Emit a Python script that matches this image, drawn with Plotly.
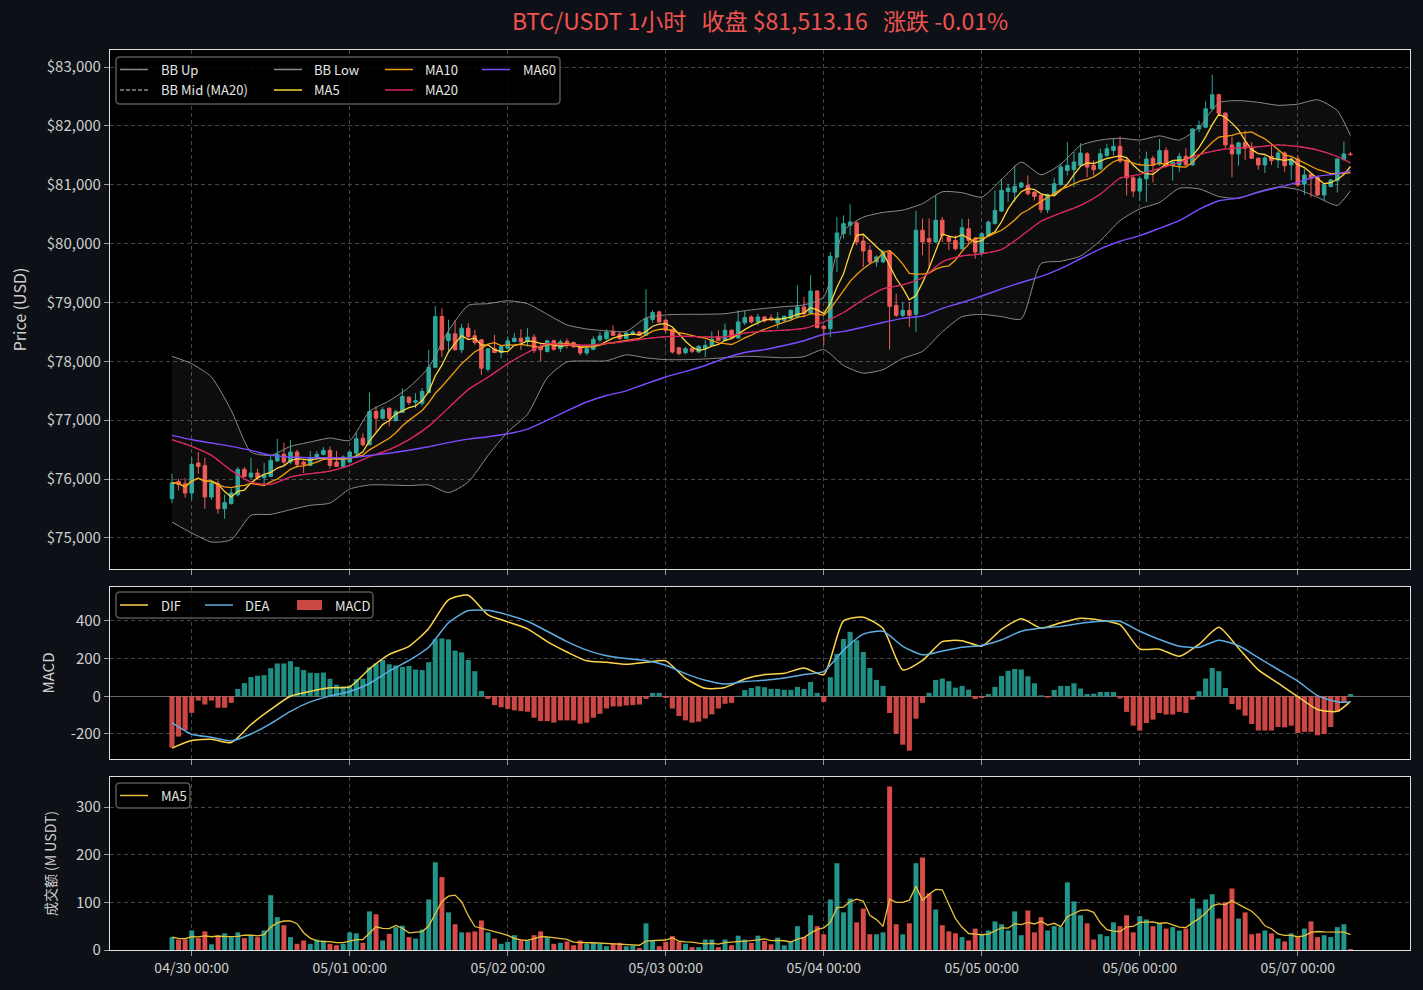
import plotly.graph_objects as go
from plotly.subplots import make_subplots
import pandas as pd

# hourly candles, first one is 04/29 21:00
first_candle = "2025-04-29 21:00"
day0 = pd.Timestamp("2025-04-30 00:00")

opens = [
    75667, 75960, 75922, 75763, 76273, 76227, 75695, 75922, 75497, 75582,
    75735, 76165, 76035, 76103, 76024, 76046, 76307, 76420, 76290, 76460,
    76290, 76233, 76363, 76420, 76488, 76290, 76216, 76290, 76440, 76695,
    76582, 77148, 77035, 77205, 76995, 77131, 77392, 77307, 77290, 77471,
    77901, 78762, 78354, 78468, 78196, 78564, 78434, 78366, 77867, 78213,
    78150, 78224, 78337, 78394, 78337, 78411, 78250, 78167, 78349, 78216,
    78341, 78318, 78256, 78142, 78205, 78364, 78386, 78511, 78460, 78387,
    78460, 78500, 78443, 78710, 78841, 78699, 78540, 78233, 78148, 78216,
    78159, 78216, 78273, 78415, 78358, 78529, 78398, 78654, 78754, 78669,
    78754, 78740, 78652, 78698, 78726, 78754, 78924, 78822, 79196, 78596,
    78556, 79773, 80170, 80311, 80351, 80045, 79887, 79689, 79689, 79858,
    78952, 78782, 78867, 78799, 80227, 80085, 80028, 80396, 80111, 80055,
    79913, 80253, 80083, 79840, 80140, 80338, 80553, 80887, 80875, 80960,
    80989, 80875, 80819, 80575, 80819, 81006, 81243, 81260, 81328, 81526,
    81328, 81270, 81498, 81583, 81651, 81413, 81119, 80892, 81100, 81449,
    81353, 81580, 81324, 81336, 81483, 81336, 81949, 81978, 82290, 82529,
    82216, 81677, 81523, 81722, 81637, 81449, 81336, 81483, 81421, 81540,
    81336, 81438, 81012, 81177, 81126, 80825, 80972, 81069, 81427, 81522,
]
highs = [
    76092, 76007, 76018, 76363, 76460, 76363, 75978, 75978, 75735, 75837,
    76205, 76205, 76363, 76177, 76273, 76431, 76686, 76618, 76669, 76499,
    76318, 76477, 76477, 76545, 76556, 76477, 76403, 76470, 76788, 76780,
    77471, 77233, 77222, 77215, 77177, 77545, 77403, 77460, 77545, 78196,
    78943, 78904, 78706, 78694, 78638, 78649, 78536, 78377, 78224, 78451,
    78262, 78422, 78479, 78547, 78564, 78462, 78290, 78366, 78370, 78370,
    78386, 78340, 78273, 78245, 78426, 78500, 78540, 78614, 78500, 78500,
    78528, 78515, 79227, 78869, 78858, 78710, 78557, 78245, 78250, 78240,
    78273, 78358, 78511, 78529, 78642, 78540, 78869, 78869, 78782, 78811,
    78770, 78800, 78839, 78780, 78880, 79292, 79094, 79462, 79207, 78613,
    79858, 80453, 80481, 80668, 80380, 80170, 79972, 79800, 79898, 79887,
    79151, 79009, 79009, 80555, 80425, 80425, 80821, 80451, 80140, 80140,
    80423, 80423, 80111, 80196, 80394, 80904, 81102, 81017, 81328, 81050,
    81158, 80890, 80836, 80847, 81119, 81357, 81724, 81555, 81708, 81555,
    81413, 81611, 81696, 81781, 81821, 81470, 81158, 81130, 81563, 81495,
    81779, 81637, 81400, 81540, 81620, 81960, 82091, 82415, 82869, 82546,
    82233, 81818, 81733, 81921, 81722, 81470, 81495, 81677, 81580, 81563,
    81466, 81506, 81268, 81190, 81140, 81012, 81097, 81449, 81733, 81560,
]
lows = [
    75593, 75808, 75684, 75650, 76092, 75497, 75650, 75412, 75327, 75571,
    75707, 76035, 76007, 75990, 75922, 76035, 76307, 76227, 76250, 76188,
    76103, 76216, 76318, 76403, 76177, 76205, 76205, 76280, 76403, 76554,
    76570, 76808, 77007, 76893, 76973, 77120, 77262, 77205, 77245, 77460,
    77890, 78071, 78139, 78185, 78139, 78366, 78281, 77771, 77828, 78139,
    78054, 78196, 78320, 78196, 78252, 78139, 78000, 78150, 78180, 78160,
    78216, 78230, 78103, 78103, 78188, 78330, 78358, 78432, 78358, 78375,
    78443, 78430, 78432, 78654, 78654, 78483, 78131, 78103, 78120, 78140,
    78142, 78074, 78245, 78341, 78330, 78386, 78386, 78614, 78641, 78613,
    78660, 78680, 78556, 78670, 78700, 78726, 78743, 78800, 78560, 78273,
    78414, 79519, 80085, 80142, 79972, 79604, 79660, 79604, 79672, 78199,
    78754, 78754, 78584, 78499, 79802, 79575, 80011, 80026, 79890, 79885,
    79885, 79998, 79744, 79800, 80111, 80327, 80536, 80706, 80706, 80940,
    80819, 80734, 80519, 80519, 80802, 80972, 81158, 80960, 81300, 81130,
    81158, 81243, 81470, 81498, 81368, 80819, 80791, 80730, 80711, 81040,
    81324, 81296, 81069, 81222, 81324, 81324, 81892, 81960, 82262, 82176,
    81620, 81126, 81324, 81421, 81438, 81256, 81199, 81336, 81279, 81222,
    81080, 80972, 80825, 80785, 80813, 80728, 80955, 80870, 81410, 81490,
]
closes = [
    75939, 75910, 75763, 76250, 76216, 75695, 75933, 75497, 75599, 75763,
    76165, 76046, 76103, 76024, 76075, 76318, 76420, 76290, 76460, 76250,
    76250, 76363, 76420, 76488, 76233, 76216, 76375, 76460, 76686, 76582,
    77148, 77035, 77177, 77035, 77148, 77403, 77301, 77330, 77488, 77901,
    78762, 78196, 78468, 78196, 78564, 78422, 78320, 77884, 78213, 78150,
    78252, 78349, 78394, 78337, 78411, 78185, 78196, 78349, 78207, 78330,
    78273, 78245, 78142, 78216, 78375, 78432, 78500, 78443, 78387, 78483,
    78500, 78443, 78727, 78830, 78670, 78529, 78159, 78131, 78216, 78171,
    78256, 78273, 78375, 78358, 78529, 78398, 78670, 78744, 78669, 78754,
    78686, 78709, 78737, 78765, 78867, 78924, 78811, 79196, 78573, 78556,
    79785, 80181, 80340, 80368, 80028, 79875, 79689, 79773, 79858, 78935,
    78782, 78867, 78782, 80227, 80028, 80028, 80396, 80140, 80040, 79913,
    80270, 80055, 79857, 80168, 80366, 80564, 80904, 80943, 80972, 81028,
    80847, 80802, 80575, 80836, 81017, 81300, 81328, 81385, 81538, 81300,
    81255, 81526, 81611, 81651, 81402, 81119, 80892, 81100, 81438, 81336,
    81580, 81324, 81381, 81483, 81336, 81949, 82006, 82290, 82529, 82216,
    81677, 81523, 81711, 81620, 81449, 81336, 81455, 81410, 81540, 81324,
    81438, 80995, 81165, 81109, 80825, 80995, 81080, 81438, 81523, 81513.16,
]
# turnover, million USDT
volumes = [
    27, 22, 22, 41, 25, 39, 12, 30, 35, 28,
    37, 25, 32, 27, 41, 115, 69, 52, 27, 13,
    20, 13, 22, 20, 13, 10, 13, 37, 35, 15,
    81, 75, 20, 34, 48, 51, 27, 24, 43, 106,
    184, 153, 79, 54, 37, 37, 39, 62, 37, 24,
    13, 17, 31, 20, 20, 31, 39, 27, 13, 15,
    18, 10, 20, 13, 15, 13, 8, 13, 15, 8,
    10, 4, 56, 20, 8, 17, 29, 18, 13, 6,
    6, 22, 22, 6, 22, 10, 30, 22, 15, 30,
    19, 12, 26, 10, 17, 50, 27, 73, 50, 33,
    106, 182, 79, 108, 58, 87, 33, 33, 37, 343,
    54, 33, 56, 182, 194, 119, 85, 52, 39, 35,
    27, 20, 45, 33, 41, 60, 54, 41, 81, 31,
    83, 37, 69, 41, 50, 48, 142, 102, 73, 56,
    22, 33, 29, 58, 50, 73, 37, 71, 64, 50,
    56, 45, 48, 41, 45, 108, 87, 106, 117, 66,
    100, 129, 66, 79, 33, 35, 41, 35, 24, 18,
    35, 27, 45, 60, 27, 31, 27, 48, 54, 2,
]
macd_hist = [
    -272, -214, -180, -88, -23, -44, -23, -61, -61, -35,
    39, 70, 102, 109, 112, 149, 174, 174, 186, 156,
    139, 125, 123, 126, 93, 61, 53, 56, 91, 93,
    153, 174, 193, 170, 163, 156, 161, 142, 139, 181,
    303, 307, 302, 242, 233, 193, 133, 28, -14, -47,
    -58, -67, -75, -79, -82, -114, -132, -132, -140, -128,
    -128, -128, -146, -140, -114, -93, -65, -54, -54, -49,
    -47, -44, -14, 18, 18, -9, -65, -105, -128, -140,
    -135, -118, -96, -65, -40, -35, 2, 33, 44, 53,
    48, 39, 39, 34, 34, 50, 39, 76, 18, -30,
    101, 225, 304, 342, 297, 235, 150, 87, 55, -89,
    -200, -257, -289, -119, -35, 18, 87, 94, 80, 46,
    55, 35, -14, -9, 12, 50, 108, 135, 145, 142,
    106, 69, 5, -7, 34, 55, 55, 69, 41, 12,
    14, 23, 23, 23, -12, -83, -156, -182, -142, -124,
    -89, -97, -97, -83, -89, -18, 27, 94, 150, 133,
    44, -41, -71, -103, -147, -182, -182, -182, -163, -165,
    -156, -195, -189, -189, -207, -200, -163, -83, -35, 12,
]

# slow indicators every 3 hours (hours from 04/30 00:00)
ind_hours = list(range(-3, 175, 3)) + [176]
bb_up = [
    78085, 77960, 77734, 77168, 76460, 76403, 76556, 76630, 76698, 76658,
    77150, 77330, 77560, 77900, 78520, 78950, 78980, 79030, 78980, 78800,
    78620, 78550, 78520, 78510, 78740, 78790, 78800, 78800, 78810, 78860,
    78900, 78930, 78960, 79094, 80220, 80450, 80530, 80570, 80680, 80880,
    80865, 80791, 81090, 81385, 81170, 81350, 81668, 81760, 81790, 81760,
    81830, 81760, 81978, 82392, 82430, 82400, 82350, 82370, 82443, 82260,
    81836,
]
bb_low = [
    75270, 75084, 74931, 74970, 75384, 75401, 75480, 75554, 75593, 75830,
    75900, 75900, 75890, 75900, 75770, 75950, 76400, 76800, 77100, 77720,
    77990, 78006, 78010, 78110, 78060, 78029, 78029, 78040, 78063, 78086,
    78075, 78060, 78080, 78199, 77930, 77800, 77860, 78050, 78170, 78500,
    78760, 78798, 78760, 78720, 79660, 79700, 79790, 80050, 80390, 80590,
    80700, 80940, 80930, 80800, 80770, 80880, 80960, 80920, 80785, 80650,
    80898,
]
ma20 = [
    76669, 76556, 76403, 76148, 75950, 75910, 76035, 76092, 76137, 76233,
    76380, 76500, 76670, 76900, 77210, 77520, 77730, 77960, 78150, 78300,
    78280, 78275, 78300, 78340, 78385, 78420, 78426, 78415, 78415, 78480,
    78515, 78530, 78560, 78669, 78830, 79050, 79230, 79300, 79420, 79690,
    79790, 79828, 79900, 80130, 80380, 80520, 80650, 80840, 81110, 81175,
    81280, 81380, 81510, 81590, 81625, 81645, 81677, 81650, 81590, 81480,
    81370,
]
ma60 = [
    76743, 76669, 76613, 76556, 76488, 76403, 76375, 76363, 76363, 76363,
    76400, 76440, 76490, 76550, 76620, 76680, 76720, 76770, 76850, 77000,
    77160, 77310, 77420, 77500, 77620, 77735, 77830, 77930, 78055, 78150,
    78200, 78270, 78350, 78460, 78510, 78580, 78660, 78730, 78770, 78900,
    79000, 79110, 79230, 79340, 79445, 79575, 79743, 79910, 80040, 80135,
    80260, 80390, 80580, 80728, 80775, 80870, 80955, 81040, 81145, 81185,
    81239,
]
dif = [
    -275, -235, -228, -246, -150, -70, 0, 26, 45, 50,
    145, 222, 265, 360, 512, 536, 432, 395, 358, 290,
    235, 188, 180, 170, 180, 188, 95, 42, 47, 92,
    115, 122, 150, 115, 400, 420, 360, 140, 190, 290,
    295, 266, 355, 411, 362, 390, 414, 404, 380, 251,
    250, 212, 276, 366, 255, 140, 70, -2, -70, -80,
    -27,
]
dea = [
    -140, -202, -218, -237, -200, -145, -80, -30, 2, 25,
    68, 133, 190, 260, 390, 455, 456, 432, 398, 345,
    290, 245, 215, 200, 190, 165, 120, 85, 65, 78,
    85, 97, 115, 132, 245, 330, 345, 265, 220, 240,
    260, 270, 300, 345, 362, 371, 388, 398, 398, 345,
    301, 265, 260, 298, 268, 205, 142, 80, 3, -30,
    -30,
]

price_ticks = list(range(75000, 83001, 1000))
macd_ticks = [-200, 0, 200, 400]
vol_ticks = [0, 100, 200, 300]

GREEN = "#26a69a"
RED = "#ef5350"
BB_COL = "#8c8c8c"
MA5_COL = "#ffd43b"
MA10_COL = "#f39c12"
MA20_COL = "#e0245e"
MA60_COL = "#7c4dff"
DIF_COL = "#fdd54a"
DEA_COL = "#5dade2"
VMA_COL = "#e8c13a"
TXT = "#cfcfcf"
FONT = "Noto Sans CJK SC"

times = pd.date_range(first_candle, periods=len(closes), freq="h")
x_c = times.strftime("%Y-%m-%d %H:%M:%S").tolist()
x_i = (day0 + pd.to_timedelta(ind_hours, unit="h")).strftime("%Y-%m-%d %H:%M:%S").tolist()

close_s = pd.Series(closes)
ma5 = close_s.rolling(5, min_periods=1).mean()
ma10 = close_s.rolling(10, min_periods=1).mean()
vol_ma5 = pd.Series(volumes).rolling(5, min_periods=1).mean()

up_down = [GREEN if c >= o else RED for o, c in zip(opens, closes)]
hist_cols = ["rgba(38,166,154,0.85)" if v >= 0 else "rgba(239,83,80,0.85)" for v in macd_hist]
vol_cols = ["rgba(38,166,154,0.9)" if c == GREEN else "rgba(239,83,80,0.9)" for c in up_down]

HOUR_MS = 3600 * 1000
SMOOTH = dict(shape="spline", smoothing=0.6)

fig = make_subplots(rows=3, cols=1, shared_xaxes=True)

# price panel
fig.add_trace(go.Candlestick(
    x=x_c, open=opens, high=highs, low=lows, close=closes,
    increasing=dict(line=dict(color=GREEN, width=1), fillcolor=GREEN),
    decreasing=dict(line=dict(color=RED, width=1), fillcolor=RED),
    whiskerwidth=0, showlegend=False, name="BTC/USDT"
), row=1, col=1)
fig.add_trace(go.Scatter(x=x_i, y=bb_low, mode="lines", line=dict(color=BB_COL, width=1, **SMOOTH),
                         showlegend=False, name="BB Low"), row=1, col=1)
fig.add_trace(go.Scatter(x=x_i, y=bb_up, mode="lines", line=dict(color=BB_COL, width=1, **SMOOTH),
                         fill="tonexty", fillcolor="rgba(255,255,255,0.05)",
                         showlegend=False, name="BB Up"), row=1, col=1)
fig.add_trace(go.Scatter(x=x_i, y=ma20, mode="lines",
                         line=dict(color=BB_COL, width=0.8, dash="4px,2px", **SMOOTH),
                         showlegend=False, name="BB Mid (MA20)"), row=1, col=1)
fig.add_trace(go.Scatter(x=x_c, y=ma5, mode="lines", line=dict(color=MA5_COL, width=1.3),
                         showlegend=False, name="MA5"), row=1, col=1)
fig.add_trace(go.Scatter(x=x_c, y=ma10, mode="lines", line=dict(color=MA10_COL, width=1.3),
                         showlegend=False, name="MA10"), row=1, col=1)
fig.add_trace(go.Scatter(x=x_i, y=ma20, mode="lines", line=dict(color=MA20_COL, width=1.3, **SMOOTH),
                         showlegend=False, name="MA20"), row=1, col=1)
fig.add_trace(go.Scatter(x=x_i, y=ma60, mode="lines", line=dict(color=MA60_COL, width=1.4, **SMOOTH),
                         showlegend=False, name="MA60"), row=1, col=1)

# MACD panel
fig.add_trace(go.Bar(x=x_c, y=macd_hist, marker=dict(color=hist_cols, line=dict(width=0)),
                     width=0.78 * HOUR_MS, showlegend=False, name="MACD"), row=2, col=1)
fig.add_trace(go.Scatter(x=x_i, y=dif, mode="lines", line=dict(color=DIF_COL, width=1.5, **SMOOTH),
                         showlegend=False, name="DIF"), row=2, col=1)
fig.add_trace(go.Scatter(x=x_i, y=dea, mode="lines", line=dict(color=DEA_COL, width=1.5, **SMOOTH),
                         showlegend=False, name="DEA"), row=2, col=1)

# volume panel
fig.add_trace(go.Bar(x=x_c, y=volumes, marker=dict(color=vol_cols, line=dict(width=0)),
                     width=0.75 * HOUR_MS, showlegend=False, name="成交额"), row=3, col=1)
fig.add_trace(go.Scatter(x=x_c, y=vol_ma5, mode="lines", line=dict(color=VMA_COL, width=1.3),
                         showlegend=False, name="MA5"), row=3, col=1)

x_range = [(day0 - pd.Timedelta(hours=12.41)).strftime("%Y-%m-%d %H:%M:%S"),
           (day0 + pd.Timedelta(hours=185.04)).strftime("%Y-%m-%d %H:%M:%S")]

common_x = dict(
    type="date", range=x_range, tickformat="%m/%d %H:%M", dtick=86400000, tick0="2025-04-30",
    showgrid=True, gridcolor="#444444", griddash="4px,3px", gridwidth=1,
    ticks="outside", ticklen=5, tickcolor="#9a9a9a",
    showline=True, linecolor="#dddddd", linewidth=1.2, mirror=True,
    zeroline=False, tickfont=dict(size=14, color=TXT, family=FONT),
)
common_y = dict(
    showgrid=True, gridcolor="#444444", griddash="4px,3px", gridwidth=1,
    ticks="outside", ticklen=5, tickcolor="#9a9a9a",
    showline=True, linecolor="#dddddd", linewidth=1.2, mirror=True,
    zeroline=False, tickfont=dict(size=15, color=TXT, family=FONT),
)

GAP = "\u00a0\u00a0\u00a0"
fig.update_layout(
    width=1423, height=990,
    margin=dict(l=110, r=13, t=50, b=40),
    paper_bgcolor="#0d1117", plot_bgcolor="#000000",
    font=dict(family=FONT, color=TXT),
    boxgap=0.24,
    showlegend=False,
    title=dict(text=f"BTC/USDT 1小时{GAP}收盘 $81,513.16{GAP}涨跌 -0.01%",
               x=0.5, xref="paper", xanchor="center",
               y=1 - 22 / 990, yref="container", yanchor="middle",
               font=dict(size=23, color=RED, family=FONT)),
    xaxis=dict(common_x, showticklabels=False, rangeslider=dict(visible=False)),
    xaxis2=dict(common_x, showticklabels=False),
    xaxis3=dict(common_x, showticklabels=True),
    yaxis=dict(common_y, domain=[(950 - 569) / 900, 1.0], range=[74473, 83289],
               tickvals=price_ticks, ticktext=[f"${v:,}" for v in price_ticks],
               title=dict(text="Price (USD)", font=dict(size=16, color=TXT, family=FONT), standoff=16)),
    yaxis2=dict(common_y, domain=[(950 - 759) / 900, (950 - 587) / 900], range=[-333, 580],
                tickvals=macd_ticks, ticktext=[str(v) for v in macd_ticks],
                zeroline=True, zerolinecolor="#6a6a6a", zerolinewidth=1,
                title=dict(text="MACD", font=dict(size=15, color=TXT, family=FONT), standoff=12)),
    yaxis3=dict(common_y, domain=[0, (950 - 777) / 900], range=[0, 363],
                tickvals=vol_ticks, ticktext=[str(v) for v in vol_ticks],
                title=dict(text="成交额 (M USDT)", font=dict(size=14, color=TXT, family=FONT), standoff=16)),
)


# hand-built legends (matplotlib style boxes), positions in pixels
def px(x):
    return (x - 110) / 1300


def py(y):
    return (950 - y) / 900


def legend_box(x0, y0, x1, y1, r=4):
    pts = [
        f"M {px(x0 + r)},{py(y0)}", f"L {px(x1 - r)},{py(y0)}",
        f"Q {px(x1)},{py(y0)} {px(x1)},{py(y0 + r)}", f"L {px(x1)},{py(y1 - r)}",
        f"Q {px(x1)},{py(y1)} {px(x1 - r)},{py(y1)}", f"L {px(x0 + r)},{py(y1)}",
        f"Q {px(x0)},{py(y1)} {px(x0)},{py(y1 - r)}", f"L {px(x0)},{py(y0 + r)}",
        f"Q {px(x0)},{py(y0)} {px(x0 + r)},{py(y0)}", "Z",
    ]
    fig.add_shape(type="path", path=" ".join(pts), xref="paper", yref="paper",
                  line=dict(color="#555555", width=1.5), fillcolor="rgba(0,0,0,0.8)", layer="above")


def legend_line(x, y, text, color, dash="solid", tx=None):
    fig.add_shape(type="line", xref="paper", yref="paper",
                  x0=px(x), x1=px(x + 28), y0=py(y), y1=py(y),
                  line=dict(color=color, width=1.5, dash=dash), layer="above")
    fig.add_annotation(x=px(tx if tx else x + 39), y=py(y), xref="paper", yref="paper",
                       text=text, showarrow=False, xanchor="left", yanchor="middle",
                       font=dict(size=13, color="#e6e6e6", family=FONT))


legend_box(116, 57, 560, 104)
legend_line(120, 69.5, "BB Up", BB_COL)
legend_line(120, 90, "BB Mid (MA20)", BB_COL, dash="4px,2px")
legend_line(274, 69.5, "BB Low", BB_COL, tx=312)
legend_line(274, 90, "MA5", MA5_COL, tx=312)
legend_line(385, 69.5, "MA10", MA10_COL, tx=423)
legend_line(385, 90, "MA20", MA20_COL, tx=423)
legend_line(482, 69.5, "MA60", MA60_COL, tx=521)

legend_box(116, 592, 373, 618)
legend_line(120, 605, "DIF", DIF_COL)
legend_line(205, 605, "DEA", DEA_COL, tx=243)
fig.add_shape(type="rect", xref="paper", yref="paper", x0=px(297), x1=px(322), y0=py(610), y1=py(600),
              line=dict(width=0), fillcolor="rgba(239,83,80,0.85)", layer="above")
fig.add_annotation(x=px(333), y=py(605), xref="paper", yref="paper", text="MACD", showarrow=False,
                   xanchor="left", yanchor="middle", font=dict(size=13, color="#e6e6e6", family=FONT))

legend_box(116, 783, 190, 808)
legend_line(120, 795.5, "MA5", VMA_COL)

fig.write_html("out.html", config={"displayModeBar": False},
               post_script="document.body.style.margin='0';")
